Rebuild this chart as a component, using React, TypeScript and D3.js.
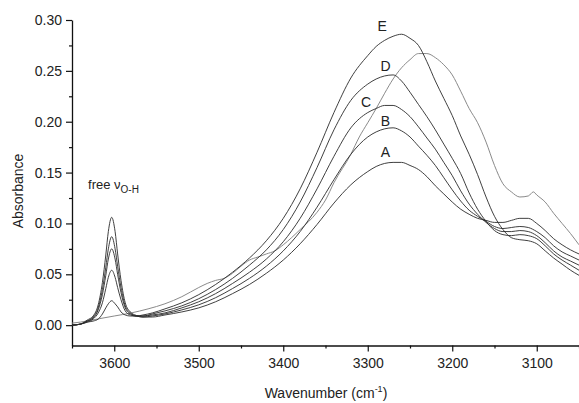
import React, { useEffect, useRef } from "react";
import * as d3 from "d3";

// wavenumber grid (cm-1) shared by spectra A-E
const wavenumbers = [
  3650, 3640, 3632, 3625, 3619, 3614, 3610, 3607, 3603, 3599, 3596, 3592, 3587, 3581, 3574, 3566,
  3555, 3540, 3520, 3500, 3480, 3460, 3440, 3420, 3400, 3380, 3360, 3340, 3320, 3300,
  3290, 3280, 3270, 3260, 3250, 3240, 3230, 3220, 3210, 3200,
  3190, 3180, 3170, 3160, 3150, 3140, 3130, 3120, 3110, 3100,
  3090, 3080, 3070, 3060, 3050,
];

const seriesA = [
  0.0, 0.001, 0.005, 0.009, 0.02, 0.042, 0.069, 0.092, 0.106, 0.092, 0.07, 0.044, 0.022, 0.013, 0.0096, 0.008,
  0.008, 0.01, 0.013, 0.017, 0.023, 0.031, 0.04, 0.051, 0.064, 0.08, 0.099, 0.12, 0.138, 0.151,
  0.156, 0.159, 0.16, 0.16, 0.157, 0.153, 0.146, 0.137, 0.129, 0.121,
  0.114, 0.109, 0.105, 0.103, 0.101, 0.101, 0.103, 0.105, 0.105, 0.1,
  0.093, 0.085, 0.079, 0.074, 0.07,
];

const seriesB = [
  0.0, 0.001, 0.004, 0.008, 0.017, 0.035, 0.057, 0.075, 0.087, 0.075, 0.058, 0.037, 0.019, 0.012, 0.009, 0.008,
  0.009, 0.011, 0.015, 0.02, 0.027, 0.036, 0.046, 0.058, 0.073, 0.092, 0.116, 0.143, 0.168, 0.185,
  0.19, 0.193, 0.194, 0.191, 0.185, 0.176, 0.167, 0.157, 0.145, 0.133,
  0.122, 0.113, 0.107, 0.102, 0.097, 0.095, 0.096, 0.097, 0.096, 0.092,
  0.086, 0.078, 0.072, 0.068, 0.064,
];

const seriesC = [
  0.0, 0.001, 0.004, 0.007, 0.015, 0.03, 0.049, 0.065, 0.075, 0.065, 0.05, 0.032, 0.017, 0.011, 0.009, 0.009,
  0.01, 0.012, 0.017, 0.023, 0.031, 0.041, 0.052, 0.065, 0.082, 0.105, 0.134, 0.166, 0.194, 0.209,
  0.213, 0.216, 0.216, 0.212, 0.205, 0.195, 0.184, 0.173, 0.16, 0.147,
  0.132, 0.119, 0.109, 0.101, 0.095, 0.092, 0.092, 0.093, 0.092, 0.088,
  0.081, 0.073, 0.067, 0.063, 0.059,
];

const seriesD = [
  0.0, 0.001, 0.003, 0.006, 0.012, 0.022, 0.036, 0.047, 0.054, 0.047, 0.037, 0.025, 0.014, 0.01, 0.009, 0.009,
  0.011, 0.014, 0.019, 0.026, 0.035, 0.046, 0.059, 0.074, 0.094, 0.121, 0.155, 0.192, 0.221, 0.237,
  0.242, 0.245, 0.246, 0.24, 0.229, 0.217, 0.205, 0.192, 0.178, 0.164,
  0.149, 0.13, 0.114, 0.102, 0.093, 0.089, 0.088, 0.089, 0.088, 0.085,
  0.078, 0.07, 0.064, 0.059, 0.054,
];

const seriesE = [
  0.0, 0.001, 0.003, 0.004, 0.006, 0.011, 0.017, 0.021, 0.024, 0.021, 0.018, 0.013, 0.01, 0.009, 0.009, 0.01,
  0.012, 0.016, 0.022, 0.03, 0.04, 0.052, 0.066, 0.083, 0.105, 0.134, 0.17, 0.209, 0.243, 0.265,
  0.274, 0.28, 0.284, 0.286, 0.282, 0.275, 0.259, 0.24, 0.223, 0.206,
  0.186, 0.168, 0.148, 0.126, 0.107, 0.094, 0.086, 0.084, 0.083, 0.08,
  0.073, 0.066, 0.06, 0.054, 0.049,
];

// the lighter, unlabelled spectrum (no free O-H peak)
const wavenumbersF = [
  3650, 3640, 3620, 3600, 3580, 3560, 3540, 3520, 3500, 3490, 3480, 3470, 3460, 3450, 3440, 3430,
  3420, 3410, 3400, 3380, 3360, 3350, 3340, 3320, 3310, 3300, 3290, 3280, 3270, 3260, 3250, 3240,
  3230, 3220, 3210, 3200, 3190, 3180, 3170, 3160, 3150, 3140, 3130, 3120, 3110, 3104, 3100, 3090,
  3080, 3070, 3060, 3050,
];
const seriesF = [
  0.002, 0.003, 0.006, 0.009, 0.012, 0.016, 0.021, 0.028, 0.037, 0.041, 0.044, 0.046, 0.051, 0.058,
  0.064, 0.067, 0.07, 0.073, 0.079, 0.094, 0.111, 0.123, 0.14, 0.168, 0.185, 0.199, 0.213, 0.228,
  0.242, 0.253, 0.261, 0.267, 0.267, 0.263, 0.256, 0.246, 0.23, 0.213, 0.199, 0.18, 0.157, 0.139,
  0.131, 0.126, 0.127, 0.131, 0.128, 0.121, 0.11, 0.1, 0.09, 0.079,
];

const labelNames = ["E", "D", "C", "B", "A"];
const labelWn = [3283, 3279, 3302, 3279, 3279];
const labelAbs = [0.289, 0.25, 0.2147, 0.196, 0.165];

const yMajor = [0, 0.05, 0.1, 0.15, 0.2, 0.25, 0.3];
const yMinor = [0.025, 0.075, 0.125, 0.175, 0.225, 0.275];
const xMajor = [3600, 3500, 3400, 3300, 3200, 3100];
const xMinor = [3650, 3550, 3450, 3350, 3250, 3150, 3050];

const FONT = "'Liberation Sans', Arial, sans-serif";

export default function App() {
  const ref = useRef<SVGSVGElement>(null);

  useEffect(() => {
    const svg = d3.select(ref.current);
    svg.selectAll("*").remove();

    const x = d3.scaleLinear().domain([3650, 3050]).range([72, 579]);
    const y = d3.scaleLinear().domain([-0.02, 0.3]).range([345.5, 20]);

    const styleAxis = (g: any) => {
      g.select(".domain").attr("stroke", "#111").attr("stroke-width", 1.3);
      g.selectAll(".tick line").attr("stroke", "#111").attr("stroke-width", 1.2);
      g.selectAll("text").attr("font-family", FONT).attr("font-size", 14).attr("fill", "#222");
    };

    // y axis
    svg
      .append("g")
      .attr("transform", "translate(72,0)")
      .call(d3.axisLeft(y).tickValues(yMajor).tickFormat(d3.format(".2f")).tickSize(6).tickSizeOuter(0).tickPadding(4))
      .call(styleAxis);
    svg
      .append("g")
      .attr("transform", "translate(72,0)")
      .call(d3.axisLeft(y).tickValues(yMinor).tickFormat(() => "").tickSize(3).tickSizeOuter(0))
      .call(styleAxis)
      .call((g: any) => g.select(".domain").remove());

    // x axis
    svg
      .append("g")
      .attr("transform", "translate(0,345.5)")
      .call(d3.axisBottom(x).tickValues(xMajor).tickFormat(d3.format("d")).tickSize(6).tickSizeOuter(0).tickPadding(7))
      .call(styleAxis);
    svg
      .append("g")
      .attr("transform", "translate(0,345.5)")
      .call(d3.axisBottom(x).tickValues(xMinor).tickFormat(() => "").tickSize(3).tickSizeOuter(0))
      .call(styleAxis)
      .call((g: any) => g.select(".domain").remove());

    // axis titles
    const xt = svg
      .append("text")
      .attr("x", 326)
      .attr("y", 398)
      .attr("text-anchor", "middle")
      .attr("font-family", FONT)
      .attr("font-size", 14)
      .attr("fill", "#222");
    xt.append("tspan").text("Wavenumber (cm");
    xt.append("tspan").attr("font-size", 9).attr("dy", -6).text("-1");
    xt.append("tspan").attr("dy", 6).text(")");

    svg
      .append("text")
      .attr("transform", "translate(23,191) rotate(-90)")
      .attr("text-anchor", "middle")
      .attr("font-family", FONT)
      .attr("font-size", 14)
      .attr("fill", "#222")
      .text("Absorbance");

    // spectra
    const lineFor = (wn: number[]) =>
      d3
        .line<number>()
        .x((_, i) => x(wn[i]))
        .y((d) => y(d))
        .curve(d3.curveMonotoneX);

    svg
      .append("path")
      .datum(seriesF)
      .attr("fill", "none")
      .attr("stroke", "#8a8a8a")
      .attr("stroke-width", 1)
      .attr("d", lineFor(wavenumbersF));

    [seriesA, seriesB, seriesC, seriesD, seriesE].forEach((s) => {
      svg
        .append("path")
        .datum(s)
        .attr("fill", "none")
        .attr("stroke", "#2a2a2a")
        .attr("stroke-width", 0.9)
        .attr("d", lineFor(wavenumbers));
    });

    // curve letters
    labelNames.forEach((name, i) => {
      svg
        .append("text")
        .attr("x", x(labelWn[i]))
        .attr("y", y(labelAbs[i]))
        .attr("text-anchor", "middle")
        .attr("font-family", FONT)
        .attr("font-size", 14)
        .attr("fill", "#222")
        .text(name);
    });

    // free O-H annotation
    const fr = svg
      .append("text")
      .attr("x", x(3631))
      .attr("y", y(0.134))
      .attr("font-family", FONT)
      .attr("font-size", 13)
      .attr("fill", "#222");
    fr.append("tspan").text("free \u03bd");
    fr.append("tspan").attr("font-size", 10).attr("dy", 4).text("O-H");
  }, []);

  return (
    <svg
      ref={ref}
      width={579}
      height={403}
      style={{ position: "absolute", left: 0, top: 0, background: "#fff" }}
    />
  );
}
